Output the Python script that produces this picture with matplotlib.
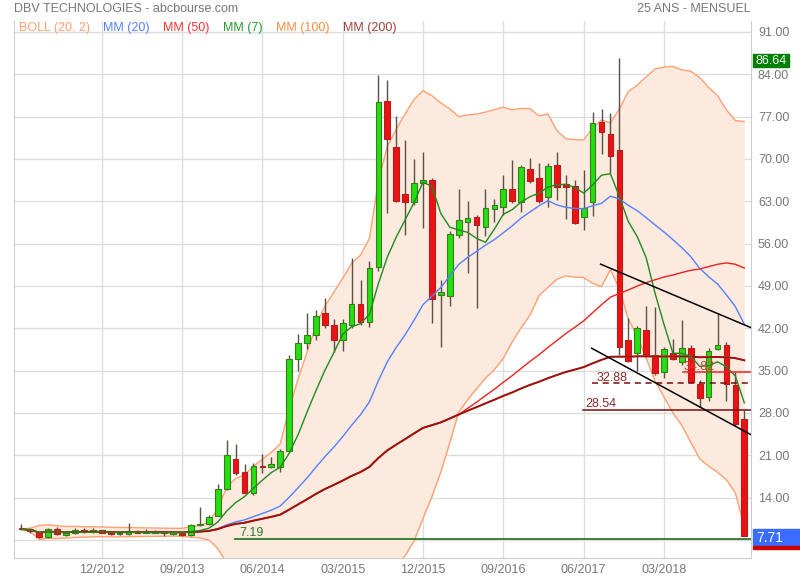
import numpy as np
import pandas as pd
import matplotlib
matplotlib.use('Agg')
import matplotlib.pyplot as plt
from matplotlib.patches import Rectangle

plt.rcParams['font.family'] = ['Liberation Sans', 'DejaVu Sans']

# monthly candles, 03/2012 -> 12/2018
opens = [9.0, 8.8, 8.3, 7.45, 8.8, 7.9, 8.1, 8.65, 8.3, 8.6,
         8.3, 8.0, 7.95, 8.5, 8.2, 8.2, 8.25, 8.0, 8.1, 7.75,
         9.4, 9.7, 11.0, 15.4, 20.4, 18.3, 14.7, 19.1, 19.0, 19.1,
         21.7, 37.0, 39.5, 40.9, 44.5, 42.5, 40.1, 42.5, 46.0, 43.0,
         52.2, 79.6, 71.9, 64.2, 62.9, 66.0, 66.5, 47.5, 47.4, 57.4,
         59.6, 60.35, 58.7, 61.8, 62.0, 65.1, 62.9, 68.3, 66.8, 63.65,
         69.0, 65.8, 65.5, 60.4, 62.8, 76.1, 74.2, 71.5, 40.1, 37.9,
         41.7, 37.6, 34.7, 37.9, 36.5, 38.8, 32.75, 30.7, 38.5, 39.2,
         32.6, 26.95]
highs = [9.6, 8.9, 8.4, 9.0, 9.2, 8.3, 8.9, 8.9, 8.9, 8.7,
         8.3, 8.2, 9.75, 8.6, 8.8, 8.6, 8.3, 8.3, 8.2, 9.6,
         12.5, 11.1, 16.3, 23.5, 22.8, 19.6, 19.7, 21.2, 20.7, 22.0,
         37.5, 41.0, 44.5, 45.0, 47.0, 43.5, 43.6, 53.6, 49.9, 53.2,
         83.8, 83.0, 77.1, 73.1, 70.0, 71.2, 66.8, 50.0, 58.0, 65.0,
         63.0, 60.8, 65.0, 63.3, 67.4, 69.8, 69.0, 70.2, 69.3, 69.3,
         71.1, 67.3, 66.5, 68.2, 77.8, 78.2, 77.6, 86.64, 43.65, 42.3,
         45.6, 45.5, 38.9, 40.3, 43.4, 39.2, 33.5, 38.8, 44.5, 39.8,
         34.82, 28.54]
lows = [8.7, 8.2, 7.4, 7.3, 7.9, 7.7, 8.0, 8.2, 8.2, 8.1,
        7.9, 7.9, 7.9, 8.1, 8.1, 8.1, 7.6, 7.9, 7.7, 7.6,
        9.3, 9.5, 10.9, 15.2, 17.8, 14.7, 14.5, 18.0, 18.9, 18.3,
        21.5, 35.0, 38.5, 40.0, 42.0, 38.0, 38.3, 42.0, 42.5, 42.2,
        51.5, 61.0, 62.8, 57.5, 62.3, 58.5, 42.8, 38.85, 45.7, 57.0,
        51.1, 45.3, 57.2, 59.6, 60.7, 62.7, 61.3, 66.0, 62.7, 62.0,
        63.2, 60.0, 59.3, 58.25, 60.55, 70.75, 67.6, 37.6, 36.4, 35.0,
        37.3, 34.2, 33.8, 36.7, 35.9, 32.9, 29.0, 30.0, 38.4, 30.0,
        25.9, 7.6]
closes = [8.8, 8.5, 7.45, 8.8, 7.95, 8.2, 8.6, 8.3, 8.65, 8.2,
          7.95, 8.0, 8.5, 8.2, 8.25, 8.3, 8.2, 8.25, 7.8, 9.5,
          9.7, 10.8, 15.4, 21.0, 18.0, 14.8, 19.2, 19.0, 19.6, 21.7,
          37.0, 39.5, 40.9, 44.0, 42.5, 40.1, 42.8, 46.0, 43.0, 51.9,
          79.4, 73.3, 63.1, 62.9, 66.0, 66.5, 46.9, 48.0, 57.6, 59.85,
          60.2, 59.0, 61.9, 62.3, 65.1, 63.0, 68.6, 66.4, 63.1, 68.8,
          65.3, 65.4, 59.45, 61.9, 75.9, 74.4, 70.5, 38.85, 36.6, 42.0,
          37.6, 34.55, 38.5, 37.0, 38.7, 33.2, 30.4, 38.2, 39.2, 32.75,
          26.2, 7.71]

tick_pos = [9, 18, 27, 36, 45, 54, 63, 72]
tick_labels = ['12/2012', '09/2013', '06/2014', '03/2015',
               '12/2015', '09/2016', '06/2017', '03/2018']
y_ticks = [7, 14, 21, 28, 35, 42, 49, 56, 63, 70, 77, 84, 91]

# trend lines (index, value)
upper_trend = ([64.9, 81.75], [52.6, 42.1])
lower_trend = ([63.9, 81.75], [38.7, 24.4])

df = pd.DataFrame({'o': opens, 'h': highs, 'l': lows, 'c': closes})
x = np.arange(len(df))
c = df['c']
mm = {n: c.rolling(n, min_periods=1).mean() for n in (7, 20, 50, 100, 200)}
bb_mid = c.rolling(20, min_periods=1).mean()
bb_std = c.rolling(20, min_periods=1).std(ddof=0)
bb_up = bb_mid + 2 * bb_std
bb_lo = bb_mid - 2 * bb_std

fig = plt.figure(figsize=(8, 5.8), dpi=100)
ax = fig.add_axes([14/800, 1 - 558/580, 737/800, 537/580])
ax.set_xlim(-0.83, 81.75)
ax.set_ylim(4.02, 92.8)

# bollinger
ax.fill_between(x, bb_lo, bb_up, color='#fdeadf', zorder=1, linewidth=0)
ax.plot(x, bb_up, color='#ffa070', lw=1, zorder=2)
ax.plot(x, bb_lo, color='#ffa070', lw=1, zorder=2)

# candles
up = df['c'] >= df['o']
ax.vlines(x, df['l'], df['h'], color='#5a5045', lw=1, zorder=3)
body_lo = np.minimum(df['o'], df['c'])
body_h = np.maximum(np.abs(df['c'] - df['o']), 0.15)
ax.bar(x[up], body_h[up], bottom=body_lo[up], width=0.64,
       color='#22e011', edgecolor='#3d7a1a', lw=0.8, zorder=4)
ax.bar(x[~up], body_h[~up], bottom=body_lo[~up], width=0.64,
       color='#ee1111', edgecolor='#b02020', lw=0.8, zorder=4)

# moving averages
ax.plot(x, mm[20], color='#5580ff', lw=1, zorder=5)
ax.plot(x, mm[50], color='#ee2020', lw=1, zorder=5)
ax.plot(x, mm[7], color='#1f8a1f', lw=1, zorder=6)
ax.plot(x, mm[100], color='#ff8c40', lw=1.2, zorder=5)
ax.plot(x, mm[200], color='#9a1010', lw=1.4, zorder=5)

# levels
ax.plot([23.9, 81.75], [7.19, 7.19], color='#1a6e1a', lw=1.2, zorder=6)
ax.text(24.4, 7.6, '7.19', color='#2a7a2a', fontsize=9, zorder=7)
ax.plot([62.9, 81.75], [28.54, 28.54], color='#7a0a0a', lw=1.1, zorder=6)
ax.text(63.2, 29.0, '28.54', color='#8b2a2a', fontsize=9, zorder=7)
ax.plot([63.9, 81.75], [32.88, 32.88], color='#7a0a0a', lw=1.1, ls=(0, (4, 3)), zorder=6)
ax.text(64.5, 33.3, '32.88', color='#8b2a2a', fontsize=9, zorder=7)
ax.plot([74.1, 81.75], [34.82, 34.82], color='#ee2020', lw=1.1, zorder=6)
ax.text(74.2, 35.1, '34.82', color='#ee3030', fontsize=9, zorder=7)

ax.plot(*upper_trend, color='black', lw=1.1, zorder=7)
ax.plot(*lower_trend, color='black', lw=1.1, zorder=7)

# axes styling (7.00 label sits under the last-price box)
ax.set_xticks(tick_pos)
ax.set_xticklabels(tick_labels)
ax.set_yticks(y_ticks)
ax.set_yticklabels(['' if v == 7 else '%.2f' % v for v in y_ticks])
ax.yaxis.tick_right()
ax.tick_params(axis='both', length=0, labelsize=9, labelcolor='#777777')
ax.tick_params(axis='y', pad=5)
ax.tick_params(axis='x', pad=4)
ax.grid(True, color='#dddddd', lw=1, zorder=0)
ax.set_axisbelow(True)
for s in ['left', 'bottom', 'right']:
    ax.spines[s].set_color('#cccccc')
ax.spines['top'].set_visible(False)

# header and legend
fig.text(14/800, 1 - 9/580, 'DBV TECHNOLOGIES - abcbourse.com', color='#777777',
         fontsize=9, va='center')
fig.text(751/800, 1 - 9/580, '25 ANS - MENSUEL', color='#777777',
         fontsize=9, va='center', ha='right')
legend = [('BOLL (20, 2)', '#ffa070', 19), ('MM (20)', '#5580ff', 103),
          ('MM (50)', '#ff3333', 163), ('MM (7)', '#2a9a2a', 223),
          ('MM (100)', '#ff8c40', 276), ('MM (200)', '#a04040', 343)]
for txt, col, px in legend:
    fig.text(px/800, 1 - 28/580, txt, color=col, fontsize=9, va='center')

# price labels on the right
fig.add_artist(Rectangle((753/800, 1 - 67/580), 36/800, 13/580,
                         transform=fig.transFigure, color='#008000', zorder=10))
fig.text(771/800, 1 - 60.5/580, '86.64', color='white', fontsize=9,
         ha='center', va='center', zorder=11)
fig.add_artist(Rectangle((753/800, 1 - 546/580), 47/800, 17/580,
                         transform=fig.transFigure, color='#3a6cff', zorder=10))
fig.add_artist(Rectangle((753/800, 1 - 549/580), 47/800, 3/580,
                         transform=fig.transFigure, color='#cc0000', zorder=10))
fig.text(756/800, 1 - 537.5/580, '7.71', color='white', fontsize=10,
         ha='left', va='center', zorder=11)

fig.savefig('out.png', dpi=100)
